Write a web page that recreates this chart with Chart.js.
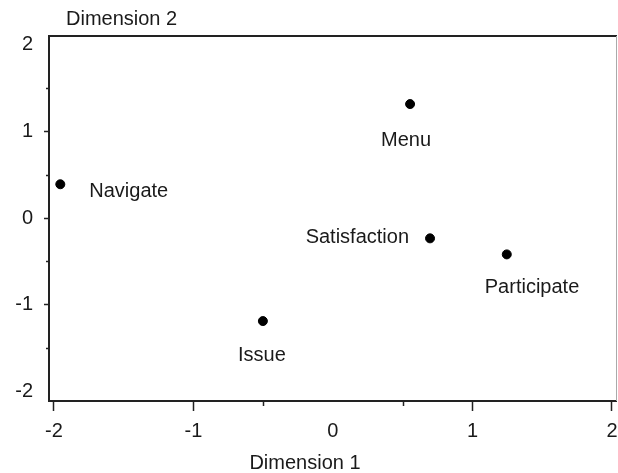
<!DOCTYPE html>
<html>
<head>
<meta charset="utf-8">
<script src="https://cdn.jsdelivr.net/npm/chart.js@4/dist/chart.umd.min.js"></script>
<style>
html,body{margin:0;padding:0;background:#fff;overflow:hidden;}
#wrap{width:618px;height:473px;position:relative;overflow:hidden;}
canvas{display:block;}
</style>
</head>
<body>
<div id="wrap"><canvas id="c" width="618" height="473"></canvas></div>
<script>
// ---- data ----
const categories = ["Navigate", "Menu", "Satisfaction", "Participate", "Issue"];
const dim1 = [-1.954, 0.553, 0.696, 1.246, -0.502];
const dim2 = [0.39, 1.315, -0.234, -0.419, -1.188];
const xTickValues = [-2, -1, 0, 1, 2];
const yTickValues = [-2, -1, 0, 1, 2];
const xMinorTicks = [-0.5, 0.5];
const yMinorTicks = [-1.5, -0.5, 0.5, 1.5];
const xTitle = "Dimension 1";
const yTitle = "Dimension 2";

// ---- label placement (style, not data) ----
const labelPlace = {
  "Navigate":     {align: "left",   dx: 29,  dy: 7},
  "Menu":         {align: "center", dx: -4,  dy: 36},
  "Satisfaction": {align: "right",  dx: -21, dy: -1},
  "Participate":  {align: "left",   dx: -22, dy: 33},
  "Issue":        {align: "center", dx: -1,  dy: 34}
};

const FONT = '"Liberation Sans", Arial, sans-serif';
const TEXT = '#1a1a1a';

const points = categories.map((c, i) => ({x: dim1[i], y: dim2[i], label: c}));

const framePlugin = {
  id: 'frame',
  afterDraw(chart) {
    const {ctx, chartArea: a, scales} = chart;
    ctx.save();
    // frame
    ctx.strokeStyle = '#222';
    ctx.lineWidth = 2;
    ctx.beginPath();
    ctx.moveTo(a.right, a.top); ctx.lineTo(a.left, a.top);
    ctx.lineTo(a.left, a.bottom); ctx.lineTo(a.right, a.bottom);
    ctx.stroke();
    ctx.strokeStyle = '#aaa';
    ctx.lineWidth = 1;
    ctx.beginPath();
    ctx.moveTo(a.right - 0.5, a.top); ctx.lineTo(a.right - 0.5, a.bottom);
    ctx.stroke();
    // minor ticks
    ctx.strokeStyle = '#222';
    ctx.lineWidth = 1.5;
    xMinorTicks.forEach(v => {
      const px = Math.round(scales.x.getPixelForValue(v)) + 0.5;
      ctx.beginPath(); ctx.moveTo(px, a.bottom); ctx.lineTo(px, a.bottom + 5); ctx.stroke();
    });
    yMinorTicks.forEach(v => {
      const py = Math.round(scales.y.getPixelForValue(v)) + 0.5;
      ctx.beginPath(); ctx.moveTo(a.left, py); ctx.lineTo(a.left - 3, py); ctx.stroke();
    });
    // point labels
    ctx.fillStyle = TEXT;
    ctx.font = '20px ' + FONT;
    ctx.textBaseline = 'middle';
    const meta = chart.getDatasetMeta(0);
    meta.data.forEach((el, i) => {
      const p = labelPlace[categories[i]];
      ctx.textAlign = p.align;
      ctx.fillText(categories[i], el.x + p.dx, el.y + p.dy);
    });
    // axis titles
    ctx.textAlign = 'left';
    ctx.fillText(yTitle, 66, 19);
    ctx.textAlign = 'center';
    ctx.fillText(xTitle, 305, 463);
    ctx.restore();
  }
};

new Chart(document.getElementById('c'), {
  type: 'scatter',
  data: {
    datasets: [{
      data: points,
      backgroundColor: '#000',
      borderColor: '#000',
      pointRadius: 4.5,
      pointHoverRadius: 4.5,
      clip: false
    }]
  },
  options: {
    responsive: false,
    animation: false,
    devicePixelRatio: 1,
    layout: {autoPadding: false, padding: {top: 36, right: 1, left: 0, bottom: 0}},
    plugins: {legend: {display: false}, tooltip: {enabled: false}, title: {display: false}},
    scales: {
      x: {
        type: 'linear', min: -2.035, max: 2.036,
        afterBuildTicks: s => { s.ticks = xTickValues.map(v => ({value: v})); },
        afterFit: s => { s.height = 72; s.paddingLeft = 0; s.paddingRight = 0; },
        border: {display: false},
        grid: {
          drawOnChartArea: false, drawTicks: true, tickLength: 10, tickWidth: 1.5,
          tickColor: c => (c.tick && c.tick.value === 0) ? 'rgba(0,0,0,0)' : '#222'
        },
        ticks: {color: TEXT, font: {size: 20, family: FONT}, padding: 8, maxRotation: 0, autoSkip: false}
      },
      y: {
        type: 'linear', min: -2.11, max: 2.10,
        afterBuildTicks: s => { s.ticks = yTickValues.map(v => ({value: v})); },
        afterFit: s => { s.width = 49; s.paddingTop = 0; s.paddingBottom = 0; },
        border: {display: false},
        grid: {
          drawOnChartArea: false, drawTicks: true, tickLength: 5, tickWidth: 1.5,
          tickColor: c => (c.tick && Math.abs(c.tick.value) === 2) ? 'rgba(0,0,0,0)' : '#222'
        },
        ticks: {color: TEXT, font: {size: 20, family: FONT}, padding: 11, autoSkip: false}
      }
    }
  },
  plugins: [framePlugin]
});
</script>
</body>
</html>
